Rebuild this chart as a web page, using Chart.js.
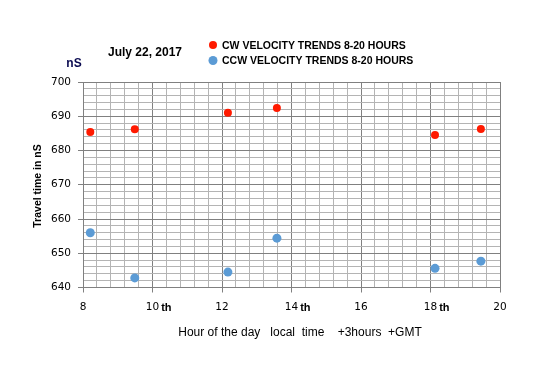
<!DOCTYPE html>
<html>
<head>
<meta charset="utf-8">
<script src="https://cdn.jsdelivr.net/npm/chart.js@4.4.1/dist/chart.umd.min.js"></script>
<style>
  body { margin: 0; background: #fff; }
  canvas { display: block; }
</style>
</head>
<body>
<canvas id="myChart" width="550" height="380"></canvas>
<script>
// values
const hours = [8.21, 9.49, 12.17, 13.58, 18.13, 19.45];
const cwValues = [685.4, 686.2, 691.0, 692.4, 684.5, 686.3];
const ccwValues = [656.0, 642.8, 644.5, 654.4, 645.6, 647.7];
const xTickLabels = [8, 10, 12, 14, 16, 18, 20];
const xTickSuffix = ["", "th", "", "th", "", "th", ""];
const seriesNames = ["CW VELOCITY TRENDS 8-20 HOURS", "CCW VELOCITY TRENDS 8-20 HOURS"];

const isMajorX = v => Math.abs(v / 2 - Math.round(v / 2)) < 1e-6;
const isMajorY = v => Math.abs(v / 10 - Math.round(v / 10)) < 1e-6;

// extra texts: title, legend, x labels with "th", axis titles
const textPlugin = {
  id: "texts",
  afterDraw(chart) {
    const ctx = chart.ctx;
    const x = chart.scales.x;
    const area = chart.chartArea;
    ctx.save();
    ctx.textBaseline = "middle";

    // x tick labels
    xTickLabels.forEach(function(v, i) {
      const px = x.getPixelForValue(v);
      ctx.font = "10.5px 'DejaVu Sans'";
      ctx.fillStyle = "#000";
      ctx.textAlign = "center";
      ctx.fillText(String(v), px, area.bottom + 20);
      if (xTickSuffix[i]) {
        const w = ctx.measureText(String(v)).width;
        ctx.font = "bold 11px 'Liberation Sans'";
        ctx.textAlign = "left";
        ctx.fillText(xTickSuffix[i], px + w / 2 + 2, area.bottom + 20);
      }
    });

    // x title
    ctx.font = "12px 'Liberation Sans'";
    ctx.textAlign = "center";
    ctx.fillText("Hour of the day   local  time    +3hours  +GMT", 300, 333);

    // y title
    ctx.save();
    ctx.translate(38, 186);
    ctx.rotate(-Math.PI / 2);
    ctx.font = "bold 10.5px 'Liberation Sans'";
    ctx.fillText("Travel time in nS", 0, 0);
    ctx.restore();

    // date and unit
    ctx.font = "bold 12px 'Liberation Sans'";
    ctx.fillText("July 22, 2017", 145, 53);
    ctx.fillStyle = "#0a0a50";
    ctx.fillText("nS", 74, 64);

    // legend
    chart.data.datasets.forEach(function(ds, i) {
      const ly = 45 + i * 15.5;
      ctx.beginPath();
      ctx.arc(213, ly, ds.pointRadius, 0, Math.PI * 2);
      ctx.fillStyle = ds.backgroundColor;
      ctx.fill();
      ctx.fillStyle = "#000";
      ctx.font = "bold 10.5px 'Liberation Sans'";
      ctx.textAlign = "left";
      ctx.fillText(ds.label, 222, ly + 1);
    });
    ctx.restore();
  }
};

new Chart("myChart", {
  type: "scatter",
  data: {
    datasets: [{
      label: seriesNames[0],
      data: hours.map((h, i) => ({x: h, y: cwValues[i]})),
      backgroundColor: "#ff1a00",
      borderColor: "#ff1a00",
      pointRadius: 4,
      pointBorderWidth: 0
    }, {
      label: seriesNames[1],
      data: hours.map((h, i) => ({x: h, y: ccwValues[i]})),
      backgroundColor: "#5b9bd5",
      borderColor: "#5b9bd5",
      pointRadius: 4.5,
      pointBorderWidth: 0
    }]
  },
  options: {
    responsive: false,
    animation: false,
    layout: { padding: { left: 0, top: 82, right: 50, bottom: 0 } },
    plugins: {
      legend: { display: false },
      title: { display: false },
      tooltip: { enabled: false }
    },
    scales: {
      x: {
        type: "linear",
        min: 8,
        max: 20,
        afterFit: s => { s.height = 92.5; },
        ticks: {
          stepSize: 0.4,
          autoSkip: false,
          maxRotation: 0,
          callback: () => ""
        },
        grid: {
          color: c => isMajorX(c.tick.value) ? "#808080" : "#b4b4b4",
          tickColor: c => isMajorX(c.tick.value) ? "#808080" : "rgba(0,0,0,0)",
          tickLength: 5
        },
        border: { color: "#808080" }
      },
      y: {
        min: 640,
        max: 700,
        afterFit: s => { s.width = 83; },
        ticks: {
          stepSize: 2,
          autoSkip: false,
          padding: 7,
          color: "#000",
          font: { family: "'DejaVu Sans'", size: 10.5 },
          callback: v => isMajorY(v) ? v : ""
        },
        grid: {
          color: c => isMajorY(c.tick.value) ? "#808080" : "#b4b4b4",
          tickColor: c => isMajorY(c.tick.value) ? "#808080" : "rgba(0,0,0,0)",
          tickLength: 5
        },
        border: { color: "#808080" }
      }
    }
  },
  plugins: [textPlugin]
});
</script>
</body>
</html>
